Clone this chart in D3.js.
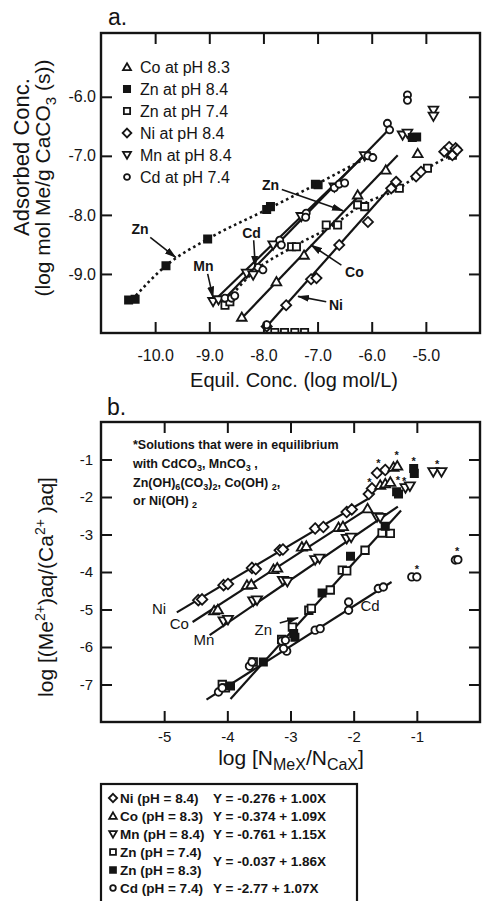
<!DOCTYPE html>
<html><head><meta charset="utf-8">
<script src="https://cdn.jsdelivr.net/npm/d3@7"></script>
<style>
body{margin:0;background:#fff}
svg{display:block}
text{font-family:"Liberation Sans",Arial,Helvetica,sans-serif;fill:#141414}
</style>
</head><body>
<svg id="c" width="482" height="901"></svg>
<script>
// ---------------- DATA ----------------
// Panel a: x = Equil. Conc. (log mol/L), y = Adsorbed Conc.
const aXTicks = [-10, -9, -8, -7, -6, -5];
const aYTicks = [-6, -7, -8, -9];
const aCo = [[-8.40,-9.73],[-7.76,-9.13],[-7.25,-8.68],[-6.26,-7.66],[-5.74,-7.24],[-5.15,-6.96]];
const aZn84 = [[-10.49,-9.44],[-10.37,-9.43],[-9.80,-8.86],[-9.03,-8.41],[-7.94,-7.91],[-7.87,-7.86],[-7.04,-7.48],[-6.99,-7.49],[-5.25,-6.69],[-5.17,-6.68]];
const aZn74 = [[-8.71,-9.53],[-8.62,-9.47],[-7.48,-8.54],[-7.39,-8.54],[-6.84,-8.17],[-6.63,-8.17],[-6.26,-7.83],[-6.13,-7.86],[-5.49,-7.55],[-4.97,-7.21],[-4.51,-6.99],[-7.79,-9.99],[-7.61,-9.99],[-7.42,-9.99],[-7.24,-9.99]];
const aNi = [[-7.94,-9.89],[-7.58,-9.53],[-7.12,-9.09],[-7.02,-9.07],[-6.60,-8.51],[-6.07,-8.12],[-5.64,-7.55],[-5.55,-7.44],[-5.18,-7.35],[-5.09,-7.27],[-4.66,-6.93],[-4.57,-6.85],[-4.45,-6.87],[-4.51,-6.99],[-4.42,-6.90]];
const aMn = [[-8.93,-9.47],[-8.83,-9.44],[-8.31,-8.99],[-8.19,-9.02],[-7.82,-8.51],[-7.30,-8.03],[-6.69,-7.53],[-6.13,-7.00],[-5.43,-6.65],[-5.34,-6.62],[-4.86,-6.23],[-4.86,-6.33]];
const aCd = [[-8.71,-9.41],[-8.59,-9.41],[-8.53,-9.37],[-8.10,-8.89],[-8.01,-8.93],[-7.70,-8.43],[-7.67,-8.51],[-7.21,-7.97],[-7.22,-8.04],[-6.69,-7.54],[-6.60,-7.48],[-6.50,-7.46],[-6.07,-7.00],[-5.98,-7.03],[-5.71,-6.45],[-5.67,-6.56],[-5.34,-5.97],[-5.34,-6.06],[-7.94,-9.86]];
// solid fitted lines (endpoints) and dotted Zn curves
const aFitCd = [[-8.71,-9.41],[-5.67,-6.54]];
const aFitMn = [[-8.93,-9.47],[-6.13,-6.99]];
const aFitCo = [[-8.40,-9.75],[-5.52,-6.99]];
const aFitNi = [[-7.94,-9.89],[-5.64,-7.52]];
const aDotZn84 = [[-10.43,-9.44],[-9.80,-8.86],[-9.03,-8.41],[-7.94,-7.91],[-7.02,-7.48],[-6.07,-7.02]];
const aDotZn74 = [[-8.71,-9.50],[-8.22,-9.00],[-7.45,-8.54],[-6.70,-8.17],[-6.20,-7.84],[-5.50,-7.55],[-4.97,-7.21],[-4.45,-6.95]];
const aLegendLabels = ["Co at pH 8.3","Zn at pH 8.4","Zn at pH 7.4","Ni at pH 8.4","Mn at pH 8.4","Cd at pH 7.4"];
const aLegendMarks = ["tri","fsq","sq","dia","itri","circ"];
// annotations: label position, arrow start, arrow end (data coords)
const aNotes = [
  {t:"Zn", p:[-10.28,-8.24], a:[-10.09,-8.38], b:[-9.62,-8.72]},
  {t:"Mn", p:[-9.11,-8.87], a:[-9.03,-9.00], b:[-8.93,-9.40]},
  {t:"Cd", p:[-8.22,-8.31], a:[-8.18,-8.43], b:[-8.15,-8.88]},
  {t:"Zn", p:[-7.87,-7.49], a:[-7.66,-7.57], b:[-6.53,-7.93]},
  {t:"Co", p:[-6.32,-8.96], a:[-6.56,-8.85], b:[-7.12,-8.51]},
  {t:"Ni", p:[-6.66,-9.53], a:[-6.84,-9.47], b:[-7.36,-9.38]}
];

// Panel b: x = log[NMeX/NCaX], y = log[(Me2+)aq/(Ca2+)aq]
const bXTicks = [-5, -4, -3, -2, -1];
const bYTicks = [-1, -2, -3, -4, -5, -6, -7];
const bNi = [[-4.46,-4.75],[-4.40,-4.73],[-4.06,-4.35],[-3.99,-4.32],[-3.61,-3.89],[-3.55,-3.92],[-3.17,-3.42],[-3.12,-3.40],[-2.61,-2.84],[-2.48,-2.80],[-2.11,-2.40],[-2.03,-2.33],[-1.76,-1.92],[-1.71,-1.77],[-1.63,-1.36],[-1.50,-1.28]];
const bCo = [[-4.21,-5.03],[-4.15,-5.00],[-3.69,-4.35],[-3.62,-4.33],[-3.27,-3.93],[-3.21,-3.89],[-2.82,-3.33],[-2.75,-3.31],[-2.24,-2.81],[-2.17,-2.78],[-1.78,-2.31],[-1.58,-1.68],[-1.50,-1.64],[-1.42,-1.60],[-1.37,-1.20],[-1.31,-1.17]];
const bMn = [[-4.06,-5.31],[-3.99,-5.27],[-3.59,-4.78],[-3.53,-4.75],[-3.12,-4.23],[-3.05,-4.26],[-2.61,-3.68],[-2.54,-3.64],[-2.11,-3.11],[-2.04,-3.08],[-1.63,-2.53],[-1.58,-2.55],[-1.18,-1.76],[-1.11,-1.71],[-0.74,-1.33],[-0.61,-1.33]];
const bZn74 = [[-4.08,-7.00],[-4.03,-7.09],[-3.59,-6.40],[-3.14,-5.80],[-2.97,-5.47],[-2.71,-5.02],[-2.67,-4.97],[-2.37,-4.48],[-2.18,-3.95],[-2.11,-3.97],[-1.82,-3.42],[-1.55,-2.96],[-1.42,-2.97]];
const bZn83 = [[-3.95,-7.04],[-3.43,-6.40],[-2.93,-5.74],[-2.95,-5.64],[-2.50,-4.56],[-2.05,-3.58],[-1.50,-2.78],[-1.32,-1.86],[-1.29,-1.92],[-1.05,-1.24],[-1.04,-1.37]];
const bCd = [[-4.14,-7.20],[-4.08,-7.09],[-3.65,-6.51],[-3.61,-6.40],[-3.14,-5.84],[-3.06,-6.11],[-3.11,-6.04],[-3.08,-5.82],[-2.61,-5.55],[-2.53,-5.51],[-2.08,-5.02],[-2.08,-4.80],[-1.61,-4.44],[-1.53,-4.40],[-1.08,-4.13],[-1.00,-4.13],[-0.39,-3.68],[-0.35,-3.67]];
const bStars = [[-1.61,-1.09],[-1.32,-0.87],[-1.05,-1.04],[-1.75,-1.60],[-1.30,-1.55],[-1.20,-1.58],[-1.00,-3.92],[-0.36,-3.44],[-0.68,-1.12]];
const bFitNames = ["Ni","Co","Mn","Zn","Cd"];
const bFitIntercepts = [-0.276, -0.374, -0.761, -0.037, -2.77];
const bFitSlopes = [1.00, 1.09, 1.15, 1.86, 1.07];
const bFitRanges = [[-4.80,-1.75],[-4.55,-1.80],[-4.28,-1.30],[-3.95,-1.25],[-4.33,-1.40]];
const bNotes = [
  {t:"Ni", p:[-5.08,-4.97]},
  {t:"Co", p:[-4.76,-5.36]},
  {t:"Mn", p:[-4.37,-5.80]},
  {t:"Zn", p:[-3.43,-5.53], a:[-3.17,-5.36], b:[-2.88,-5.22]},
  {t:"Cd", p:[-1.74,-4.88]}
];
const legendNames = ["Ni (pH = 8.4)","Co (pH = 8.3)","Mn (pH = 8.4)","Zn (pH = 7.4)","Zn (pH = 8.3)","Cd (pH = 7.4)"];
const legendMarks = ["dia","tri","itri","sq","fsq","circ"];
const legendEqIndex = [0,1,2,3,3,4];

// ---------------- DRAWING ----------------
const INK = "#141414";
const svg = d3.select("#c");
const defs = svg.append("defs");
defs.append("marker").attr("id","arr").attr("markerUnits","userSpaceOnUse")
  .attr("markerWidth",12).attr("markerHeight",8).attr("refX",11).attr("refY",4).attr("orient","auto")
  .append("path").attr("d","M0,0.5L12,4L0,7.5Z").attr("fill",INK);

function markPath(type, s){
  switch(type){
    case "tri": return `M0,${-s}L${s*1.05},${s*0.8}L${-s*1.05},${s*0.8}Z`;
    case "itri": return `M0,${s}L${s*1.05},${-s*0.8}L${-s*1.05},${-s*0.8}Z`;
    case "dia": return `M0,${-s*1.15}L${s*1.15},0L0,${s*1.15}L${-s*1.15},0Z`;
    case "sq": case "fsq": { const h=s*0.82; return `M${-h},${-h}H${h}V${h}H${-h}Z`; }
    default: { const r=s*0.78; return `M${r},0A${r},${r} 0 1,1 ${-r},0A${r},${r} 0 1,1 ${r},0Z`; }
  }
}
function drawMarks(g, data, type, x, y, s){
  g.selectAll(null).data(data).enter().append("path")
    .attr("transform", d => `translate(${x(d[0])},${y(d[1])})`)
    .attr("d", markPath(type, s))
    .attr("fill", type === "fsq" ? INK : "#fff")
    .attr("stroke", INK).attr("stroke-width", 1.8);
}

function frame(g, x, y, xt, yt, xfmt, yfmt, fs, xpad, ypad){
  const [x0,x1] = x.range(), [y0,y1] = y.range();
  const style = sel => { sel.select(".domain").remove();
    sel.selectAll(".tick line").attr("stroke",INK).attr("stroke-width",2);
    sel.selectAll(".tick text").attr("fill",INK).style("font-size",fs+"px").attr("font-family",null); };
  g.append("g").attr("transform",`translate(0,${y0})`)
    .call(d3.axisBottom(x).tickValues(xt).tickSizeInner(-11).tickSizeOuter(0).tickPadding(xpad).tickFormat(xfmt)).call(style);
  g.append("g").attr("transform",`translate(0,${y1})`)
    .call(d3.axisTop(x).tickValues(xt).tickSizeInner(-11).tickSizeOuter(0).tickFormat(()=>"")).call(style);
  g.append("g").attr("transform",`translate(${x0},0)`)
    .call(d3.axisLeft(y).tickValues(yt).tickSizeInner(-11).tickSizeOuter(0).tickPadding(ypad).tickFormat(yfmt)).call(style);
  g.append("g").attr("transform",`translate(${x1},0)`)
    .call(d3.axisRight(y).tickValues(yt).tickSizeInner(-11).tickSizeOuter(0).tickFormat(()=>"")).call(style);
  g.append("rect").attr("x",x0).attr("y",y1).attr("width",x1-x0).attr("height",y0-y1)
    .attr("fill","none").attr("stroke",INK).attr("stroke-width",2.4);
}

// ===== Panel a =====
const ax = d3.scaleLinear().domain([-11,-4]).range([101,480]);
const ay = d3.scaleLinear().domain([-10,-4.92]).range([333,33]);
const ga = svg.append("g");
defs.append("clipPath").attr("id","clipA").append("rect").attr("x",102).attr("y",34).attr("width",377).attr("height",298);
const pa = ga.append("g").attr("clip-path","url(#clipA)");
const lineA = d3.line().x(d=>ax(d[0])).y(d=>ay(d[1]));
[aFitCd, aFitMn, aFitCo, aFitNi].forEach(l => pa.append("path").attr("d",lineA(l)).attr("fill","none").attr("stroke",INK).attr("stroke-width",2.2));
const lineAc = d3.line().x(d=>ax(d[0])).y(d=>ay(d[1])).curve(d3.curveMonotoneX);
[aDotZn84, aDotZn74].forEach(l => pa.append("path").attr("d",lineAc(l)).attr("fill","none").attr("stroke",INK)
  .attr("stroke-width",2.6).attr("stroke-dasharray","2.6,3.2"));
drawMarks(pa, aZn74, "sq", ax, ay, 4.4);
drawMarks(pa, aNi, "dia", ax, ay, 4.4);
drawMarks(pa, aCo, "tri", ax, ay, 4.6);
drawMarks(pa, aMn, "itri", ax, ay, 4.6);
drawMarks(pa, aCd, "circ", ax, ay, 4.6);
drawMarks(pa, aZn84, "fsq", ax, ay, 4.4);
frame(ga, ax, ay, aXTicks, aYTicks, d=>d.toFixed(1), d=>d.toFixed(1), 16, 17, 5);
// legend a
aLegendLabels.forEach((t,i) => {
  const cy = 67 + i*22;
  drawMarks(ga, [[0,0]], aLegendMarks[i], () => 127, () => cy, 3.8);
  ga.append("text").attr("x",140).attr("y",cy+5.8).style("font-size","16px").text(t);
});
// annotations a
aNotes.forEach(n => {
  ga.append("text").attr("x",ax(n.p[0])).attr("y",ay(n.p[1])).attr("text-anchor","middle")
    .attr("dominant-baseline","central").style("font-size","14px").style("font-weight","bold").text(n.t);
  ga.append("line").attr("x1",ax(n.a[0])).attr("y1",ay(n.a[1])).attr("x2",ax(n.b[0])).attr("y2",ay(n.b[1]))
    .attr("stroke",INK).attr("stroke-width",1.6).attr("marker-end","url(#arr)");
});
ga.append("text").attr("x",108).attr("y",25).style("font-size","23px").text("a.");
ga.append("text").attr("x",294).attr("y",387).attr("text-anchor","middle").style("font-size","20px").text("Equil. Conc. (log mol/L)");
ga.append("text").attr("transform","translate(29,157) rotate(-90)").attr("text-anchor","middle").style("font-size","22px").text("Adsorbed Conc.");
{
  const t = ga.append("text").attr("transform","translate(50,178) rotate(-90)").attr("text-anchor","middle").style("font-size","21px");
  t.append("tspan").text("(log mol Me/g CaCO");
  t.append("tspan").attr("dy",6).style("font-size","15px").text("3");
  t.append("tspan").attr("dy",-6).text(" (s))");
}

// ===== Panel b =====
const bx = d3.scaleLinear().domain([-6,0]).range([101,480]);
const by = d3.scaleLinear().domain([-8,0]).range([722,422]);
const gb = svg.append("g");
defs.append("clipPath").attr("id","clipB").append("rect").attr("x",102).attr("y",423).attr("width",377).attr("height",298);
const pb = gb.append("g").attr("clip-path","url(#clipB)");
const lineB = d3.line().x(d=>bx(d[0])).y(d=>by(d[1]));
bFitNames.forEach((n,i) => {
  const pts = bFitRanges[i].map(xv => [xv, bFitIntercepts[i] + bFitSlopes[i]*xv]);
  pb.append("path").attr("d",lineB(pts)).attr("fill","none").attr("stroke",INK).attr("stroke-width",2.2);
});
drawMarks(pb, bZn74, "sq", bx, by, 4.6);
drawMarks(pb, bCd, "circ", bx, by, 4.8);
drawMarks(pb, bNi, "dia", bx, by, 4.6);
drawMarks(pb, bCo, "tri", bx, by, 4.8);
drawMarks(pb, bMn, "itri", bx, by, 4.8);
drawMarks(pb, bZn83, "fsq", bx, by, 4.4);
pb.selectAll(null).data(bStars).enter().append("text")
  .attr("x",d=>bx(d[0])).attr("y",d=>by(d[1])+4).attr("text-anchor","middle")
  .style("font-size","11px").style("font-weight","bold").text("*");
frame(gb, bx, by, bXTicks, bYTicks, d=>String(d), d=>String(d), 15, 9, 8);
bNotes.forEach(n => {
  gb.append("text").attr("x",bx(n.p[0])).attr("y",by(n.p[1])).attr("text-anchor","middle")
    .attr("dominant-baseline","central").style("font-size","15px").text(n.t);
  if (n.a) gb.append("line").attr("x1",bx(n.a[0])).attr("y1",by(n.a[1])).attr("x2",bx(n.b[0])).attr("y2",by(n.b[1]))
    .attr("stroke",INK).attr("stroke-width",1.8).attr("marker-end","url(#arr)");
});
// note text
{
  const nt = gb.append("g").style("font-size","12.5px").style("font-weight","bold");
  nt.append("text").attr("x",133).attr("y",449).text("*Solutions that were in equilibrium");
  const l2 = nt.append("text").attr("x",133).attr("y",468);
  l2.append("tspan").text("with CdCO"); l2.append("tspan").attr("dy",3).style("font-size","9px").text("3");
  l2.append("tspan").attr("dy",-3).text(", MnCO"); l2.append("tspan").attr("dy",3).style("font-size","9px").text("3");
  l2.append("tspan").attr("dy",-3).text(" ,");
  const l3 = nt.append("text").attr("x",133).attr("y",487);
  l3.append("tspan").text("Zn(OH)"); l3.append("tspan").attr("dy",3).style("font-size","9px").text("6");
  l3.append("tspan").attr("dy",-3).text("(CO"); l3.append("tspan").attr("dy",3).style("font-size","9px").text("3");
  l3.append("tspan").attr("dy",-3).text(")"); l3.append("tspan").attr("dy",3).style("font-size","9px").text("2");
  l3.append("tspan").attr("dy",-3).text(", Co(OH) "); l3.append("tspan").attr("dy",3).style("font-size","9px").text("2");
  l3.append("tspan").attr("dy",-3).text(",");
  const l4 = nt.append("text").attr("x",133).attr("y",505);
  l4.append("tspan").text("or Ni(OH) "); l4.append("tspan").attr("dy",3).style("font-size","9px").text("2");
}
gb.append("text").attr("x",107).attr("y",415).style("font-size","23px").text("b.");
{
  const t = gb.append("text").attr("x",291).attr("y",765).attr("text-anchor","middle").style("font-size","21px");
  t.append("tspan").text("log [N");
  t.append("tspan").attr("dy",5).style("font-size","16px").text("MeX");
  t.append("tspan").attr("dy",-5).text("/N");
  t.append("tspan").attr("dy",5).style("font-size","16px").text("CaX");
  t.append("tspan").attr("dy",-5).text("]");
}
{
  const t = gb.append("text").attr("transform","translate(53,587) rotate(-90)").attr("text-anchor","middle").style("font-size","21px");
  t.append("tspan").text("log [(Me");
  t.append("tspan").attr("dy",-8).style("font-size","14px").text("2+");
  t.append("tspan").attr("dy",8).text(")aq/(Ca");
  t.append("tspan").attr("dy",-8).style("font-size","14px").text("2+");
  t.append("tspan").attr("dy",8).text(" )aq]");
}

// ===== bottom legend =====
const gl = svg.append("g");
gl.append("rect").attr("x",101).attr("y",784).attr("width",256).attr("height",140)
  .attr("fill","none").attr("stroke",INK).attr("stroke-width",2.2);
legendNames.forEach((t,i) => {
  const cy = 798 + i*18;
  drawMarks(gl, [[0,0]], legendMarks[i], () => 113, () => cy, 3.6);
  gl.append("text").attr("x",120).attr("y",cy+5).style("font-size","13.5px").style("font-weight","bold").text(t);
});
bFitNames.forEach((n,i) => {
  const rows = legendEqIndex.map((e,k)=>e===i?k:-1).filter(k=>k>=0);
  const cy = 798 + d3.mean(rows)*18;
  gl.append("text").attr("x",213).attr("y",cy+5).style("font-size","13.5px").style("font-weight","bold")
    .text(`Y = ${bFitIntercepts[i]} + ${bFitSlopes[i].toFixed(2)}X`);
});
</script>
</body></html>
